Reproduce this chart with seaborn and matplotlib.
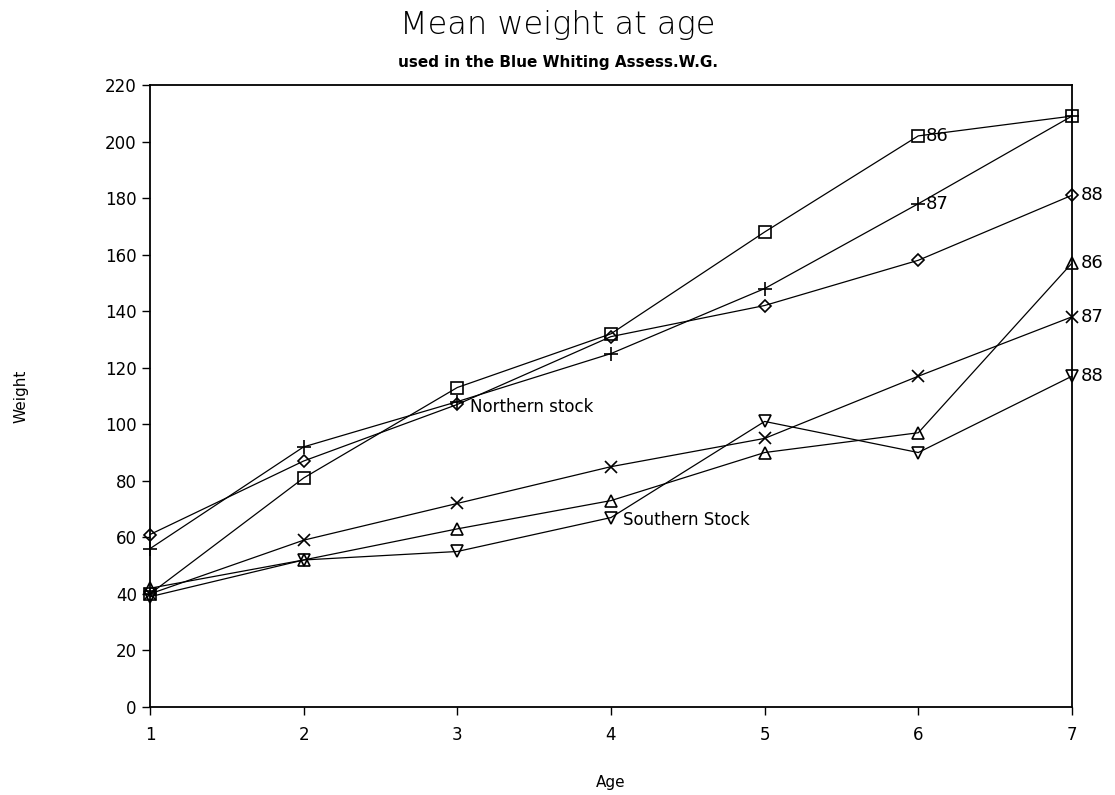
import matplotlib
matplotlib.use("Agg")
import matplotlib.pyplot as plt
import seaborn as sns
import pandas as pd

ages = [1, 2, 3, 4, 5, 6, 7]
north_86 = [40, 81, 113, 132, 168, 202, 209]
north_87 = [56, 92, 108, 125, 148, 178, 209]
north_88 = [61, 87, 107, 131, 142, 158, 181]
south_86 = [42, 52, 63, 73, 90, 97, 157]
south_87 = [40, 59, 72, 85, 95, 117, 138]
south_88 = [39, 52, 55, 67, 101, 90, 117]
yticks = list(range(0, 221, 20))

sns.set_theme(style="white")
plt.rcParams['font.family'] = ['DejaVu Sans']
plt.rcParams['text.color'] = 'black'
plt.rcParams['axes.labelcolor'] = 'black'

fig = plt.figure(figsize=(11.15, 7.95), dpi=100)
ax = fig.add_axes([0.1345, 0.1107, 0.8269, 0.7824])

series = [
    ("N86", north_86, "s", 8),
    ("N87", north_87, "+", 10),
    ("N88", north_88, "D", 6),
    ("S86", south_86, "^", 8),
    ("S87", south_87, "x", 9),
    ("S88", south_88, "v", 8),
]
for name, vals, mk, ms in series:
    df = pd.DataFrame({"Age": ages, "Weight": vals})
    sns.lineplot(data=df, x="Age", y="Weight", ax=ax, color="black", lw=0.9,
                 marker=mk, markersize=ms, markerfacecolor="none",
                 markeredgecolor="black", markeredgewidth=1.2, legend=False,
                 clip_on=False)

ax.set_xlim(1, 7)
ax.set_ylim(0, 220)
ax.set_xticks(ages)
ax.set_yticks(yticks)
ax.tick_params(axis="both", labelsize=12, length=6, width=1, direction="out",
               bottom=True, left=True, colors="black")
ax.tick_params(axis="x", pad=8)
for s in ax.spines.values():
    s.set_color("black")
    s.set_linewidth(1.3)
ax.set_xlabel("Age", fontsize=11, labelpad=22, color="black")
ax.set_ylabel("Weight", fontsize=11, labelpad=55, color="black")

# Annotations
ax.text(6.05, north_86[5], "86", fontsize=13, va="center", ha="left")
ax.text(6.05, north_87[5], "87", fontsize=13, va="center", ha="left")
ax.text(7.06, north_88[6], "88", fontsize=13, va="center", ha="left")
ax.text(7.06, south_86[6], "86", fontsize=13, va="center", ha="left")
ax.text(7.06, south_87[6], "87", fontsize=13, va="center", ha="left")
ax.text(7.06, south_88[6], "88", fontsize=13, va="center", ha="left")
ax.text(3.08, north_88[2] - 1, "Northern stock", fontsize=12, va="center", ha="left")
ax.text(4.08, south_88[3] - 1, "Southern Stock", fontsize=12, va="center", ha="left")

fig.text(0.5, 0.968, "Mean weight at age", fontsize=23, ha="center", va="center",
         fontweight="light", color="black")
fig.text(0.5, 0.922, "used in the Blue Whiting Assess.W.G.", fontsize=11,
         ha="center", va="center", fontweight="bold", color="black")

fig.savefig("out.png", dpi=100, facecolor="white")
